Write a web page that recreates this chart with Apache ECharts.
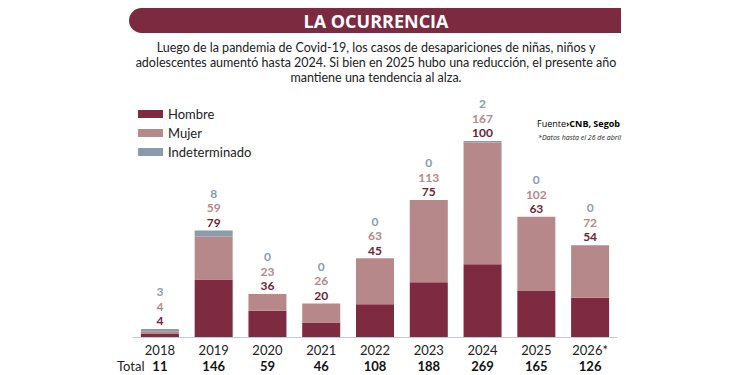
<!DOCTYPE html>
<html>
<head>
<meta charset="utf-8">
<script src="https://cdn.jsdelivr.net/npm/echarts@6/dist/echarts.min.js"></script>
<style>
  html, body { margin: 0; padding: 0; background: #fff; }
  #chart { width: 750px; height: 375px; }
</style>
</head>
<body>
<div id="chart"></div>
<script>
const years = ['2018', '2019', '2020', '2021', '2022', '2023', '2024', '2025', '2026*']
const hombre = [4, 79, 36, 20, 45, 75, 100, 63, 54]
const mujer = [4, 59, 23, 26, 63, 113, 167, 102, 72]
const indeterminado = [3, 8, 0, 0, 0, 0, 2, 0, 0]

const totals = years.map((y, i) => hombre[i] + mujer[i] + indeterminado[i])

const FONT = '"Open Sans", sans-serif'
const LATO = 'Lato, sans-serif'
const C_H = '#7e2a41'
const C_M = '#b7888a'
const C_I = '#8a9ca9'

const chart = echarts.init(document.getElementById('chart'), null, { renderer: 'svg' })

const option = {
  animation: false,
  textStyle: { fontFamily: FONT },
  legend: {
    orient: 'vertical',
    left: 133,
    top: 102,
    icon: 'rect',
    itemWidth: 25,
    itemHeight: 8,
    itemGap: 5,
    selectedMode: false,
    textStyle: { fontSize: 13, color: '#222', lineHeight: 14, fontFamily: LATO },
    data: ['Hombre', 'Mujer', 'Indeterminado']
  },
  grid: { left: 133, right: 133, top: 141, bottom: 38 },
  xAxis: {
    type: 'category',
    data: years,
    axisTick: { show: false },
    axisLine: { lineStyle: { color: '#c3ccd3', width: 1 } },
    axisLabel: {
      margin: 5,
      interval: 0,
      formatter: (v, i) => '{y|' + v + '}\n{t|' + totals[i] + '}',
      rich: {
        y: { fontSize: 13, color: '#222', lineHeight: 16, fontFamily: LATO },
        t: { fontSize: 13, fontWeight: 'bold', color: '#111', lineHeight: 16, fontFamily: LATO }
      }
    }
  },
  yAxis: { type: 'value', min: 0, max: 269, show: false },
  series: [
    {
      name: 'Hombre', type: 'bar', stack: 'a', barWidth: 38,
      itemStyle: { color: C_H }, data: hombre
    },
    {
      name: 'Mujer', type: 'bar', stack: 'a',
      itemStyle: { color: C_M }, data: mujer
    },
    {
      name: 'Indeterminado', type: 'bar', stack: 'a',
      itemStyle: { color: C_I }, data: indeterminado,
      // las tres cifras van encima de la barra
      label: {
        show: true,
        position: 'top',
        distance: 1,
        formatter: (p) => '{i|' + indeterminado[p.dataIndex] + '}\n{m|' + mujer[p.dataIndex] + '}\n{h|' + hombre[p.dataIndex] + '}',
        rich: {
          i: { fontSize: 12, fontWeight: 'bold', color: C_I, lineHeight: 14.5, fontFamily: LATO },
          m: { fontSize: 12, fontWeight: 'bold', color: C_M, lineHeight: 14.5, fontFamily: LATO },
          h: { fontSize: 12, fontWeight: 'bold', color: '#6c1f35', lineHeight: 14.5, fontFamily: LATO }
        }
      }
    }
  ],
  graphic: [
    {
      type: 'rect',
      shape: { x: 129, y: 8, width: 492, height: 25, r: [13, 0, 0, 13] },
      style: { fill: '#7b2a40' }
    },
    {
      type: 'text', x: 376, y: 21,
      style: { text: 'LA OCURRENCIA', fill: '#fff', font: 'bold 18px ' + FONT, align: 'center', verticalAlign: 'middle' }
    },
    {
      type: 'text', x: 376, y: 40,
      style: {
        text: 'Luego de la pandemia de Covid-19, los casos de desapariciones de niñas, niños y\nadolescentes aumentó hasta 2024. Si bien en 2025 hubo una reducción, el presente año\nmantiene una tendencia al alza.',
        fill: '#222', font: '12.5px ' + LATO, lineHeight: 15, align: 'center', verticalAlign: 'top'
      }
    },
    {
      type: 'text', x: 620, y: 123,
      style: {
        text: '{n|Fuente}{a|›}{b|CNB, Segob}',
        align: 'right', verticalAlign: 'middle',
        rich: {
          n: { fontSize: 9, color: '#222', fontFamily: FONT },
          a: { fontSize: 9, color: '#c0282d', fontWeight: 'bold', fontFamily: FONT },
          b: { fontSize: 9, color: '#222', fontWeight: 'bold', fontFamily: FONT }
        }
      }
    },
    {
      type: 'text', x: 621, y: 137,
      style: { text: '*Datos hasta el 26 de abril', fill: '#222', font: 'italic 7px ' + FONT, align: 'right', verticalAlign: 'middle' }
    },
    {
      type: 'text', x: 117, y: 366,
      style: { text: 'Total', fill: '#222', font: '13px ' + LATO, align: 'left', verticalAlign: 'middle' }
    }
  ]
}

chart.setOption(option)
</script>
</body>
</html>
